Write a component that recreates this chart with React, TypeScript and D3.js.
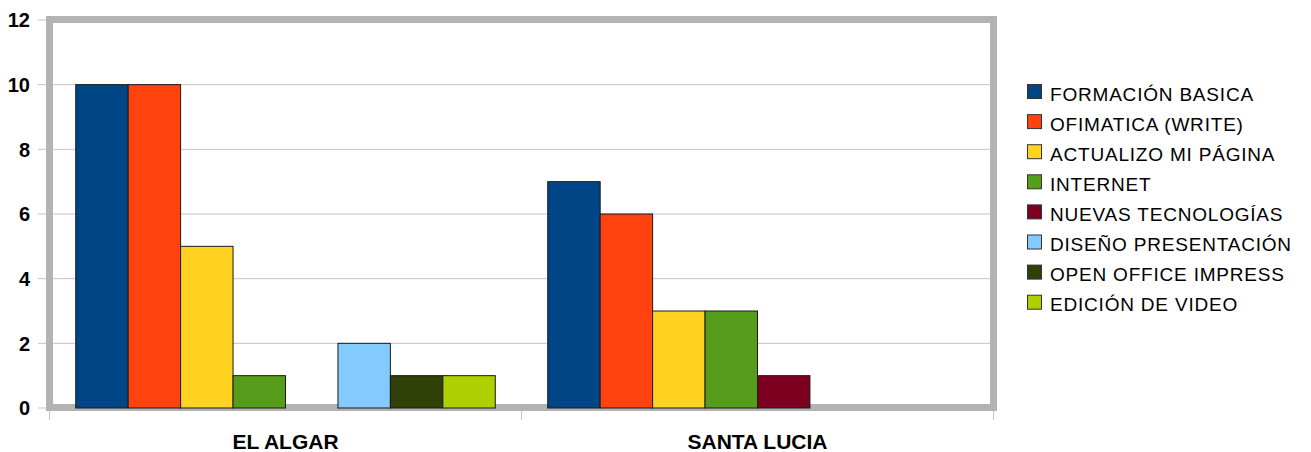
import React from "react";
import * as d3 from "d3";

const categories = ["EL ALGAR", "SANTA LUCIA"];
const seriesNames = [
  "FORMACIÓN BASICA",
  "OFIMATICA (WRITE)",
  "ACTUALIZO MI PÁGINA",
  "INTERNET",
  "NUEVAS TECNOLOGÍAS",
  "DISEÑO PRESENTACIÓN",
  "OPEN OFFICE IMPRESS",
  "EDICIÓN DE VIDEO",
];
const seriesColors = ["#004586", "#ff420e", "#ffd320", "#579d1c", "#7e0021", "#83caff", "#314004", "#aecf00"];
// values[series] per category
const elAlgar = [10, 10, 5, 1, 0, 2, 1, 1];
const santaLucia = [7, 6, 3, 3, 1, 0, 0, 0];
const yTicks = [0, 2, 4, 6, 8, 10, 12];

const W = 1311;
const H = 452;
const plotLeft = 49.5;
const plotRight = 993.5;
const plotTop = 20;
const plotBottom = 408;

export default function App() {
  const y = d3.scaleLinear().domain([0, 12]).range([plotBottom, plotTop]);
  const x0 = d3.scaleBand<string>().domain(categories).range([plotLeft, plotRight]).padding(0);
  const x1 = d3
    .scaleBand<string>()
    .domain(seriesNames)
    .range([0, x0.bandwidth()])
    .paddingInner(0)
    .paddingOuter(0.5);
  const valuesByCat = [elAlgar, santaLucia];
  const font = "'Liberation Sans', Arial, sans-serif";

  return (
    <svg width={W} height={H} style={{ position: "absolute", left: 0, top: 0, background: "#fff" }} fontFamily={font}>
      {/* gridlines */}
      {yTicks.map((t) => (
        <line key={"g" + t} x1={38} x2={plotRight - 3} y1={y(t)} y2={y(t)} stroke="#c4c4c4" strokeWidth={1} />
      ))}
      {/* frame */}
      <rect
        x={plotLeft}
        y={plotTop - 0.5}
        width={plotRight - plotLeft}
        height={plotBottom - plotTop}
        fill="none"
        stroke="#b3b3b3"
        strokeWidth={7}
      />
      {/* x ticks */}
      {[plotLeft, ...categories.slice(1).map((c) => x0(c)!), plotRight].map((xv, i) => (
        <line key={"xt" + i} x1={xv} x2={xv} y1={411} y2={420} stroke="#c4c4c4" strokeWidth={1} />
      ))}
      {/* bars */}
      {categories.map((c, ci) =>
        seriesNames.map((s, si) => {
          const v = valuesByCat[ci][si];
          if (!v) return null;
          const bx = x0(c)! + x1(s)!;
          return (
            <rect
              key={c + s}
              x={bx}
              y={y(v)}
              width={x1.bandwidth()}
              height={y(0) - y(v)}
              fill={seriesColors[si]}
              stroke="#1a1a1a"
              strokeWidth={1}
            />
          );
        })
      )}
      {/* y labels */}
      {yTicks.map((t) => (
        <text key={"yl" + t} x={30} y={y(t)} dy="0.36em" textAnchor="end" fontSize={20} fontWeight="bold" fill="#000">
          {t}
        </text>
      ))}
      {/* x labels */}
      {categories.map((c) => (
        <text
          key={"xl" + c}
          x={x0(c)! + x0.bandwidth() / 2}
          y={448.5}
          textAnchor="middle"
          fontSize={21}
          fontWeight="bold"
          fill="#000"
        >
          {c}
        </text>
      ))}
      {/* legend */}
      {seriesNames.map((s, i) => (
        <g key={"lg" + s} transform={`translate(0, ${i * 30.1})`}>
          <rect x={1027.5} y={84.5} width={14} height={14} fill={seriesColors[i]} stroke="#333" strokeWidth={1} />
          <text x={1050} y={100.7} fontSize={19} letterSpacing={0.8} fill="#000">
            {s}
          </text>
        </g>
      ))}
    </svg>
  );
}
